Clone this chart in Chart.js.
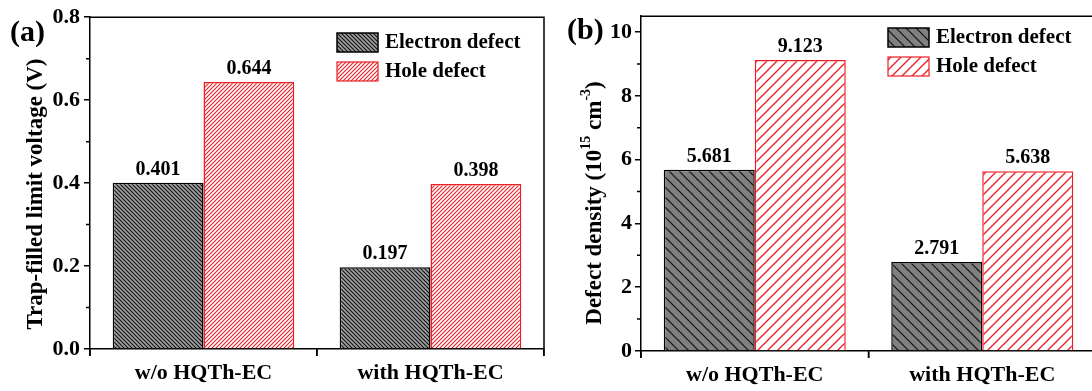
<!DOCTYPE html>
<html>
<head>
<meta charset="utf-8">
<script src="https://cdn.jsdelivr.net/npm/chart.js@4.4.1/dist/chart.umd.min.js"></script>
<style>
html, body { margin: 0; padding: 0; background: #fff; overflow: hidden; width: 1092px; height: 391px; }
#wrapA { position: absolute; left: 0; top: 0; width: 548px; height: 391px; }
#wrapB { position: absolute; left: 548px; top: 0; width: 552px; height: 391px; }
</style>
</head>
<body>
<div id="wrapA"><canvas id="chartA"></canvas></div>
<div id="wrapB"><canvas id="chartB"></canvas></div>
<script>
// data
const categories = ['w/o HQTh-EC', 'with HQTh-EC'];
const seriesNames = ['Electron defect', 'Hole defect'];
const voltElectron = [0.401, 0.197];
const voltHole = [0.644, 0.398];
const densElectron = [5.681, 2.791];
const densHole = [9.123, 5.638];
const voltTicks = [0, 0.2, 0.4, 0.6, 0.8];
const densTicks = [0, 2, 4, 6, 8, 10];

const FONT = "'Liberation Serif', 'Times New Roman', serif";
Chart.defaults.font.family = FONT;
Chart.defaults.color = '#000';

const RED = 'rgb(235, 30, 38)';

function hatch(ctx, bg, line, step, lw, dir) {
  const c = document.createElement('canvas');
  c.width = step; c.height = step;
  const g = c.getContext('2d');
  g.fillStyle = bg;
  g.fillRect(0, 0, step, step);
  g.strokeStyle = line;
  g.lineWidth = lw;
  g.lineCap = 'square';
  for (let k = -1; k <= 1; k++) {
    g.beginPath();
    if (dir === '\\') { g.moveTo(0, k * step); g.lineTo(step, k * step + step); }
    else { g.moveTo(0, k * step + step); g.lineTo(step, k * step); }
    g.stroke();
  }
  return ctx.createPattern(c, 'repeat');
}

// per panel extras (titles, legend spot, labels)
const panels = {
  chartA: {
    tag: '(a)', tagX: 10, tagY: 33,
    title: [{t: 'Trap-filled limit voltage (V)'}], titleX: 36, titleY: 194,
    legX: 337, legY: 33, legGap: 29, digits: 3
  },
  chartB: {
    tag: '(b)', tagX: 19, tagY: 31,
    title: [{t: 'Defect density (10'}, {t: '15', sup: true}, {t: ' cm'}, {t: '-3', sup: true}, {t: ')'}],
    titleX: 47, titleY: 203,
    legX: 340, legY: 28, legGap: 29, digits: 3
  }
};

function minorValues(scale) {
  const t = scale.ticks.map(k => k.value);
  const step = t[1] - t[0];
  const out = [];
  t.forEach(v => {
    [v - step / 2, v + step / 2].forEach(m => {
      if (m >= scale.min - 1e-9 && m <= scale.max + 1e-9 && !out.some(o => Math.abs(o - m) < 1e-9)) out.push(m);
    });
  });
  return out;
}

function drawTitle(ctx, parts, cx, cy, size) {
  ctx.save();
  ctx.translate(cx, cy);
  ctx.rotate(-Math.PI / 2);
  const big = 'bold ' + size + 'px ' + FONT;
  const small = 'bold ' + Math.round(size * 0.62) + 'px ' + FONT;
  let total = 0;
  parts.forEach(p => { ctx.font = p.sup ? small : big; p.w = ctx.measureText(p.t).width; total += p.w; });
  let x = -total / 2;
  ctx.textBaseline = 'middle';
  ctx.textAlign = 'left';
  ctx.fillStyle = '#000';
  parts.forEach(p => {
    ctx.font = p.sup ? small : big;
    ctx.fillText(p.t, x, p.sup ? -size * 0.38 : 0);
    x += p.w;
  });
  ctx.restore();
}

const decor = {
  id: 'decor',
  afterDraw(chart) {
    const cfg = panels[chart.canvas.id];
    const ctx = chart.ctx;
    const area = chart.chartArea;
    const xs = chart.scales.x, ys = chart.scales.y;
    ctx.save();
    ctx.strokeStyle = '#000';
    ctx.lineWidth = 1.5;
    ctx.beginPath();
    // frame top + right
    ctx.moveTo(area.left, area.top);
    ctx.lineTo(area.right, area.top);
    ctx.lineTo(area.right, area.bottom);
    // minor ticks
    minorValues(ys).forEach(v => {
      const p = ys.getPixelForValue(v);
      ctx.moveTo(area.left, p); ctx.lineTo(area.left - 4, p);
    });
    minorValues(xs).forEach(v => {
      const p = xs.getPixelForValue(v);
      ctx.moveTo(p, area.bottom); ctx.lineTo(p, area.bottom + 7);
    });
    ctx.stroke();

    // value labels
    ctx.fillStyle = '#000';
    ctx.font = 'bold 20px ' + FONT;
    ctx.textAlign = 'center';
    ctx.textBaseline = 'alphabetic';
    chart.data.datasets.forEach((ds, di) => {
      chart.getDatasetMeta(di).data.forEach((bar, i) => {
        ctx.fillText(ds.data[i].y.toFixed(cfg.digits), bar.x, bar.y - 8);
      });
    });

    // legend
    chart.data.datasets.forEach((ds, di) => {
      const y = cfg.legY + di * cfg.legGap;
      ctx.fillStyle = ds.backgroundColor;
      ctx.fillRect(cfg.legX, y, 41, 19);
      ctx.strokeStyle = ds.borderColor;
      ctx.lineWidth = di === 0 ? 1.5 : 1.2;
      ctx.strokeRect(cfg.legX, y, 41, 19);
      ctx.fillStyle = '#000';
      ctx.font = 'bold 21px ' + FONT;
      ctx.textAlign = 'left';
      ctx.textBaseline = 'middle';
      ctx.fillText(ds.label, cfg.legX + 48, y + 10);
    });

    // panel tag
    ctx.font = 'bold 30px ' + FONT;
    ctx.textAlign = 'left';
    ctx.textBaseline = 'middle';
    ctx.fillText(cfg.tag, cfg.tagX, cfg.tagY);
    ctx.restore();

    drawTitle(ctx, cfg.title, cfg.titleX, cfg.titleY, 23);
  }
};

function makeChart(id, electron, hole, yTicks, yMax, fmt, step, top, yWidth, xHeight, tickPad) {
  const ctx = document.getElementById(id).getContext('2d');
  const elecFill = hatch(ctx, step < 6 ? '#a0a0a0' : '#808080', '#111', step, step < 6 ? 1.1 : 1.2, '\\');
  const holeFill = hatch(ctx, '#ffffff', RED, step, step < 6 ? 1.1 : 1.3, '/');
  return new Chart(ctx, {
    type: 'bar',
    data: {
      datasets: [
        { label: seriesNames[0], data: electron.map((v, i) => ({x: i + 1, y: v})),
          backgroundColor: elecFill, borderColor: '#000', borderWidth: 1.5 },
        { label: seriesNames[1], data: hole.map((v, i) => ({x: i + 1, y: v})),
          backgroundColor: holeFill, borderColor: RED, borderWidth: 1.5 }
      ]
    },
    options: {
      responsive: true,
      maintainAspectRatio: false,
      animation: false,
      layout: { padding: { top: top, right: 4, left: 0, bottom: 0 } },
      datasets: { bar: { categoryPercentage: 0.8, barPercentage: 1.0 } },
      plugins: { legend: { display: false }, tooltip: { enabled: false } },
      scales: {
        x: {
          type: 'linear', min: 0.5, max: categories.length + 0.5, offset: false,
          afterBuildTicks: s => { s.ticks = categories.map((c, i) => ({value: i + 1})); },
          afterFit: s => { s.height = xHeight; },
          ticks: {
            callback: v => categories[Math.round(v) - 1],
            font: { size: 22, weight: 'bold' }, color: '#000',
            padding: 4, maxRotation: 0, autoSkip: false
          },
          grid: { drawOnChartArea: false, drawTicks: true, tickLength: 7, color: '#000', lineWidth: 1.5 },
          border: { display: true, color: '#000', width: 1.5 }
        },
        y: {
          min: 0, max: yMax,
          afterBuildTicks: s => { s.ticks = yTicks.map(v => ({value: v})); },
          afterFit: s => { s.width = yWidth; },
          ticks: { callback: fmt, font: { size: 22, weight: 'bold' }, color: '#000', padding: tickPad },
          grid: { drawOnChartArea: false, drawTicks: true, tickLength: 6, color: '#000', lineWidth: 1.5 },
          border: { display: true, color: '#000', width: 1.5 }
        }
      }
    },
    plugins: [decor]
  });
}

makeChart('chartA', voltElectron, voltHole, voltTicks, 0.8, v => v.toFixed(1), 4, 14, 90, 42, 4);
makeChart('chartB', densElectron, densHole, densTicks, 10.5, v => String(v), 10, 15, 93, 40, 3);
</script>
</body>
</html>
